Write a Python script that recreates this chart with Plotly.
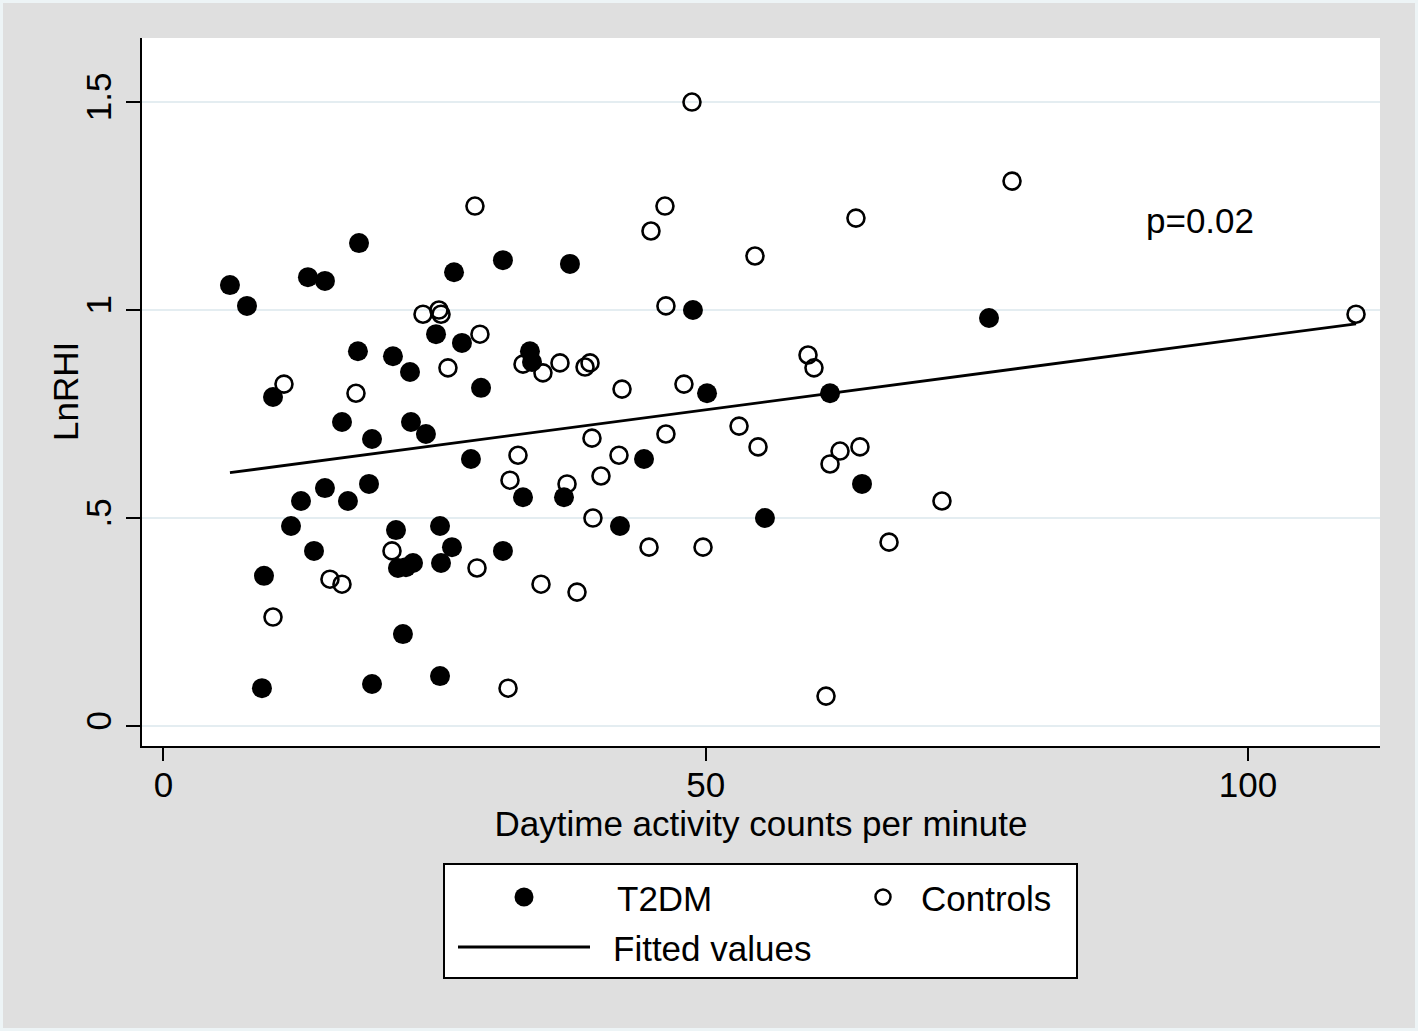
import plotly.graph_objects as go

# ---- data ----
t2dm_x = [6.13, 7.70, 13.32, 14.89, 18.03, 10.10, 17.93, 21.16, 22.73, 25.13,
          27.52, 26.79, 31.30, 37.48, 33.79, 33.98, 29.28, 16.46, 19.23, 22.82,
          24.20, 28.35, 12.68, 14.89, 17.01, 18.95, 11.76, 13.88, 21.44, 25.50,
          21.62, 22.36, 23.01, 25.59, 26.60, 31.30, 33.15, 36.93, 9.27, 22.08,
          9.08, 19.23, 25.50, 44.31, 42.09, 48.82, 50.12, 61.46, 64.41, 55.46,
          76.12]
t2dm_y = [1.060, 1.010, 1.079, 1.070, 1.161, 0.791, 0.901, 0.889, 0.851, 0.942,
          0.921, 1.091, 1.120, 1.111, 0.901, 0.875, 0.813, 0.731, 0.690, 0.731,
          0.702, 0.642, 0.541, 0.572, 0.541, 0.582, 0.481, 0.421, 0.471, 0.481,
          0.380, 0.382, 0.392, 0.392, 0.430, 0.421, 0.550, 0.550, 0.361, 0.221,
          0.091, 0.101, 0.120, 0.642, 0.481, 1.000, 0.800, 0.800, 0.582, 0.500,
          0.981]

ctrl_x = [48.73, 78.24, 28.72, 46.24, 44.95, 63.85, 54.54, 46.33, 109.96, 59.43,
          59.98, 47.99, 46.33, 53.07, 54.82, 61.46, 62.38, 64.22, 71.78, 66.90,
          61.09, 44.77, 49.75, 42.28, 40.34, 39.60, 42.00, 39.51, 37.21, 34.81,
          38.13, 31.95, 32.69, 28.91, 21.07, 15.35, 16.46, 10.10, 31.77, 11.11,
          17.75, 23.93, 25.40, 25.59, 29.18, 26.23, 33.15, 34.99, 36.56, 38.87,
          39.33]
ctrl_y = [1.500, 1.310, 1.250, 1.250, 1.190, 1.221, 1.130, 1.010, 0.990, 0.892,
          0.861, 0.822, 0.702, 0.721, 0.671, 0.630, 0.661, 0.671, 0.541, 0.442,
          0.072, 0.430, 0.430, 0.810, 0.601, 0.500, 0.651, 0.692, 0.582, 0.341,
          0.322, 0.591, 0.651, 0.380, 0.421, 0.353, 0.341, 0.262, 0.091, 0.822,
          0.800, 0.990, 1.000, 0.990, 0.942, 0.861, 0.870, 0.849, 0.873, 0.863,
          0.873]

fit_x = [6.13, 109.96]
fit_y = [0.609, 0.967]

x_tickvals = [0, 50, 100]
x_ticktext = ["0", "50", "100"]
y_tickvals = [0, 0.5, 1, 1.5]
y_ticktext = ["0", ".5", "1", "1.5"]

FONT = "Liberation Sans, Arial, Helvetica, sans-serif"
FS = 35
W, H = 1418, 1031
ML, MR, MT, MB = 142, 38, 38, 285
PW, PH = W - ML - MR, H - MT - MB


def px_x(p):
    return (p - ML) / PW


def px_y(p):
    return (H - MB - p) / PH


fig = go.Figure()
fig.add_trace(go.Scatter(x=fit_x, y=fit_y, mode="lines", name="Fitted values",
                         line=dict(color="black", width=2.8), showlegend=False))
fig.add_trace(go.Scatter(x=t2dm_x, y=t2dm_y, mode="markers", name="T2DM",
                         marker=dict(symbol="circle", size=20, color="black",
                                     line=dict(width=0)), showlegend=False))
fig.add_trace(go.Scatter(x=ctrl_x, y=ctrl_y, mode="markers", name="Controls",
                         marker=dict(symbol="circle-open", size=17, color="black",
                                     line=dict(width=2.6)), showlegend=False))

fig.add_annotation(x=95.6, y=1.216, xref="x", yref="y", text="p=0.02",
                   showarrow=False, font=dict(family=FONT, size=FS, color="black"))

# y-axis title
fig.add_annotation(x=px_x(65), y=px_y(392), xref="paper", yref="paper",
                   text="LnRHI", textangle=-90, showarrow=False,
                   xanchor="center", yanchor="middle",
                   font=dict(family=FONT, size=FS, color="black"))

shapes = []
# thin light outer border
shapes.append(dict(type="rect", xref="paper", yref="paper",
                   x0=px_x(0), x1=px_x(W), y0=px_y(H), y1=px_y(0),
                   line=dict(color="#edf4f6", width=6), fillcolor="rgba(0,0,0,0)"))
# legend box
shapes.append(dict(type="rect", xref="paper", yref="paper",
                   x0=px_x(444), x1=px_x(1077), y0=px_y(978), y1=px_y(864),
                   line=dict(color="black", width=2), fillcolor="white", layer="above"))
# legend filled marker
shapes.append(dict(type="circle", xref="paper", yref="paper",
                   xsizemode="pixel", ysizemode="pixel",
                   xanchor=px_x(524), yanchor=px_y(897),
                   x0=-9.5, x1=9.5, y0=-9.5, y1=9.5,
                   fillcolor="black", line=dict(color="black", width=0), layer="above"))
# legend hollow marker
shapes.append(dict(type="circle", xref="paper", yref="paper",
                   xsizemode="pixel", ysizemode="pixel",
                   xanchor=px_x(883), yanchor=px_y(897),
                   x0=-7.5, x1=7.5, y0=-7.5, y1=7.5,
                   fillcolor="rgba(0,0,0,0)", line=dict(color="black", width=2.5),
                   layer="above"))
# legend line
shapes.append(dict(type="line", xref="paper", yref="paper",
                   x0=px_x(458), x1=px_x(590), y0=px_y(947), y1=px_y(947),
                   line=dict(color="black", width=3), layer="above"))
fig.update_layout(shapes=shapes)

for txt, lx, ly in [("T2DM", 615, 898), ("Controls", 919, 898),
                    ("Fitted values", 611, 948)]:
    fig.add_annotation(x=px_x(lx), y=px_y(ly), xref="paper", yref="paper",
                       text=txt, showarrow=False, xanchor="left", yanchor="middle",
                       font=dict(family=FONT, size=FS, color="black"))

fig.update_layout(
    width=W, height=H,
    margin=dict(l=ML, r=MR, t=MT, b=MB, autoexpand=False),
    paper_bgcolor="#dfdfdf",
    plot_bgcolor="white",
    font=dict(family=FONT, size=FS, color="black"),
    showlegend=False,
)
fig.update_xaxes(
    range=[-1.98, 112.17], showgrid=False, zeroline=False,
    showline=True, linecolor="black", linewidth=2,
    ticks="outside", ticklen=13, tickwidth=2, tickcolor="black",
    tickvals=x_tickvals, ticktext=x_ticktext, ticklabelstandoff=-6,
    tickfont=dict(family=FONT, size=FS, color="black"),
    title=dict(text="Daytime activity counts per minute",
               font=dict(family=FONT, size=FS, color="black"), standoff=6),
)
fig.update_yaxes(
    range=[-0.048, 1.654], showgrid=True, gridcolor="#e4edf1", gridwidth=2,
    zeroline=False,
    showline=True, linecolor="black", linewidth=2,
    ticks="outside", ticklen=14, tickwidth=2, tickcolor="black",
    tickvals=y_tickvals, ticktext=y_ticktext, tickangle=-90, ticklabelstandoff=1,
    tickfont=dict(family=FONT, size=FS, color="black"),
)

fig.write_html("out.html",
               config={"displayModeBar": False},
               post_script="document.body.style.margin='0px';"
                           "document.body.style.overflow='hidden';")
